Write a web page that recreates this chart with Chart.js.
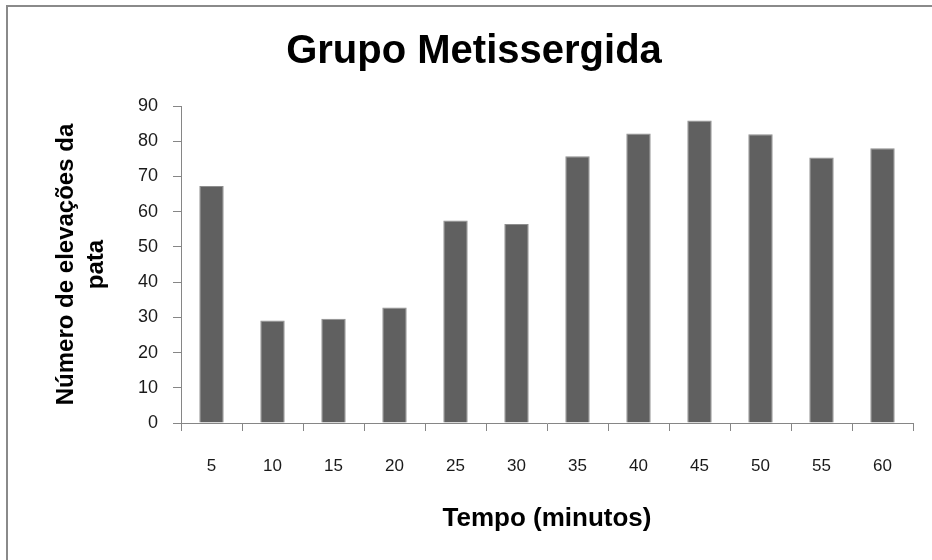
<!DOCTYPE html>
<html>
<head>
<meta charset="utf-8">
<script src="https://cdn.jsdelivr.net/npm/chart.js@4/dist/chart.umd.min.js"></script>
<style>
  html, body { margin: 0; padding: 0; background: #fff; }
  #wrap { position: relative; width: 932px; height: 560px; overflow: hidden; }
  #frame { position: absolute; left: 6px; top: 5px; width: 940px; height: 570px;
           border-left: 2px solid #8a8a8a; border-top: 2px solid #8a8a8a; }
  canvas { position: absolute; left: 0; top: 0; }
</style>
</head>
<body>
<div id="wrap">
  <div id="frame"></div>
  <canvas id="chart" width="932" height="560"></canvas>
</div>
<script>
// Grupo Metissergida - elevações da pata por tempo
const minutos = ['5', '10', '15', '20', '25', '30', '35', '40', '45', '50', '55', '60'];
const elevacoes = [67.3, 29.1, 29.6, 32.8, 57.5, 56.5, 75.7, 82.2, 85.9, 82.0, 75.4, 78.0];
const yTicks = [0, 10, 20, 30, 40, 50, 60, 70, 80, 90];

Chart.defaults.font.family = '"Liberation Sans", Arial, sans-serif';
Chart.defaults.color = '#1a1a1a';

const axisGray = '#868686';

const ctx = document.getElementById('chart').getContext('2d');
new Chart(ctx, {
    type: 'bar',
    data: {
        labels: minutos,
        datasets: [{
            label: 'Grupo Metissergida',
            data: elevacoes,
            backgroundColor: '#606060',
            borderColor: '#8e8e8e',
            borderWidth: 1,
            barPercentage: 0.4,
            categoryPercentage: 1.0
        }]
    },
    options: {
        responsive: false,
        animation: false,
        devicePixelRatio: 1,
        layout: { padding: { left: 35, right: 19, top: 0, bottom: 0 } },
        plugins: {
            legend: { display: false },
            tooltip: { enabled: false },
            title: {
                display: true,
                text: 'Grupo Metissergida',
                color: '#000',
                font: { size: 40, weight: 'bold' },
                padding: { top: 28, bottom: 30 }
            }
        },
        scales: {
            x: {
                grid: {
                    display: true,
                    drawOnChartArea: false,
                    tickLength: 8,
                    color: axisGray,
                    offset: true
                },
                border: { color: axisGray, width: 1 },
                ticks: { font: { size: 17 }, padding: 25, color: '#1a1a1a' },
                title: {
                    display: true,
                    text: 'Tempo (minutos)',
                    color: '#000',
                    font: { size: 26, weight: 'bold' },
                    padding: { top: 0, bottom: 26 }
                },
                afterFit: scale => { scale.height = 137; }
            },
            y: {
                min: 0,
                max: 90,
                grid: {
                    display: true,
                    drawOnChartArea: false,
                    tickLength: 8,
                    color: axisGray
                },
                border: { color: axisGray, width: 1 },
                ticks: {
                    stepSize: 10,
                    font: { size: 18 },
                    padding: 15,
                    color: '#1a1a1a',
                    callback: (v) => yTicks.includes(v) ? String(v) : ''
                },
                title: {
                    display: true,
                    text: ['Número de elevações da', 'pata'],
                    color: '#000',
                    font: { size: 24, weight: 'bold', lineHeight: 1.25 },
                    padding: { top: 16, bottom: 0 }
                },
                afterFit: scale => { scale.width = 146; }
            }
        }
    }
});
</script>
</body>
</html>
